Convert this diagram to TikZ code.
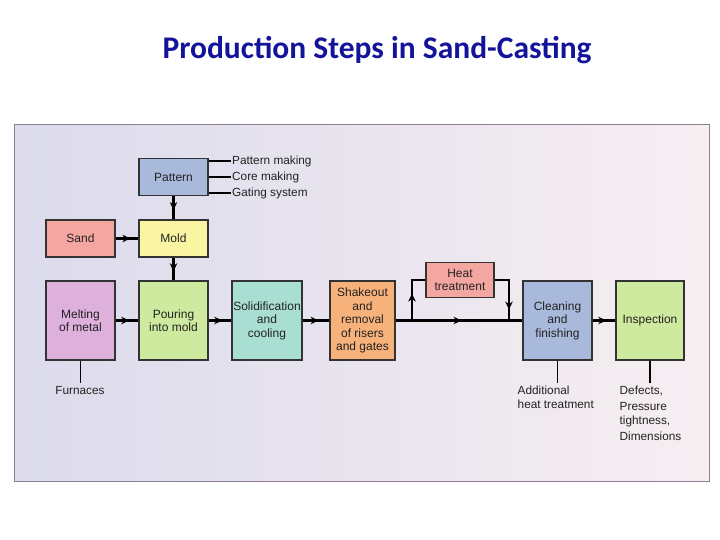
\documentclass[tikz,border=0pt]{standalone}
\usepackage{fontspec}
\setmainfont{Liberation Sans}
\newfontfamily\titlefont{Carlito}
\usepackage{tikz}
\usetikzlibrary{arrows.meta,positioning,calc,decorations.markings}
\usepackage{xcolor}
\definecolor{titleblue}{HTML}{14149A}
\definecolor{framegray}{HTML}{8E7C90}
\definecolor{bgleft}{HTML}{DCDBEC}
\definecolor{bgright}{HTML}{F6EEF1}
\definecolor{boxtext}{HTML}{222222}
\definecolor{bluebox}{HTML}{A9B9DC}
\definecolor{salmonbox}{HTML}{F4A7A0}
\definecolor{yellowbox}{HTML}{FAF5A2}
\definecolor{purplebox}{HTML}{DDB1DC}
\definecolor{greenbox}{HTML}{CDEA9E}
\definecolor{tealbox}{HTML}{A9DFD2}
\definecolor{orangebox}{HTML}{F7B27C}

\begin{document}
\begin{tikzpicture}[x=1pt, y=-1pt,
  procbox/.style={rectangle, draw=black!80, line width=1.4pt, fill=#1,
               minimum width=69pt, minimum height=79pt, inner sep=1pt,
               font=\fontsize{12}{13.5}\selectfont, text=boxtext, align=center},
  smallbox/.style={procbox=#1, minimum height=37pt},
  note/.style={font=\fontsize{11.8}{14}\selectfont, text=boxtext, align=left, inner sep=0pt},
  flow/.style={line width=2.1pt, black},
  tick/.style={line width=1.6pt, black},
  midarrow/.style={postaction={decorate}, decoration={markings,
               mark=at position #1 with {\arrow{Stealth[length=8pt, width=7.5pt]}}}},
]
  \useasboundingbox (0,0) rectangle (720,540);

  % title and backdrop
  \node[font=\titlefont\bfseries\fontsize{31.5}{36}\selectfont, text=titleblue] (title) at (377,50) {Production Steps in Sand-Casting};
  \shade[left color=bgleft, middle color=white!97!bgleft, right color=bgright] (14,125) rectangle (709,481);
  \draw[framegray, line width=1pt] (14,125) rectangle (709,481);

  % upper branch
  \node[smallbox=bluebox] (pattern) at (173.5,177) {Pattern};
  \node[smallbox=yellowbox] (mold) at (173.5,238.5) {Mold};
  \node[smallbox=salmonbox] (sand) at (80.5,238.5) {Sand};

  \node[note, anchor=west] (pmaking) at (232,161) {Pattern making};
  \node[note, anchor=west] (cmaking) at (232,177) {Core making};
  \node[note, anchor=west] (gating) at (232,193) {Gating system};
  \foreach \n in {pmaking,cmaking,gating}
    \draw[tick] (pattern.east |- \n.west) -- ($(\n.west)+(-1,0)$);

  % main row
  \node[procbox=purplebox] (melting) at (80.5,320.5) {Melting\\of metal};
  \node[procbox=greenbox] (pouring) at (173.5,320.5) {Pouring\\into mold};
  \node[procbox=tealbox, minimum width=70pt] (solid) at (267,320.5) {Solidification\\and\\cooling};
  \node[procbox=orangebox, minimum width=65pt] (shakeout) at (362.5,320.5) {Shakeout\\and\\removal\\of risers\\and gates};
  \node[smallbox=salmonbox, minimum width=68pt, minimum height=35pt] (heat) at (460,280) {Heat\\treatment};
  \node[procbox=bluebox] (cleaning) at (557.5,320.5) {Cleaning\\and\\finishing};
  \node[procbox=greenbox, minimum width=68pt] (inspection) at (650,320.5) {Inspection};

  \coordinate (split) at (412,320.5);
  \coordinate (rejoin) at (509,320.5);

  % connectors
  \draw[flow, midarrow=0.6] (pattern) -- (mold);
  \draw[flow, midarrow=0.65] (sand) -- (mold);
  \draw[flow, midarrow=0.6] (mold) -- (pouring);
  \draw[flow, midarrow=0.6] (melting) -- (pouring);
  \draw[flow, midarrow=0.6] (pouring) -- (solid);
  \draw[flow, midarrow=0.6] (solid) -- (shakeout);
  \draw[flow, midarrow=0.52] (shakeout) -- (cleaning);
  \draw[flow, midarrow=0.5] (split) |- (heat.west);
  \draw[flow, midarrow=0.8] (heat.east) -| (rejoin);
  \draw[flow, midarrow=0.6] (cleaning) -- (inspection);

  % notes below
  \node[note, anchor=north] (furnaces) at (80,386) {Furnaces};
  \node[note, anchor=north west] (addheat) at (517.5,386) {Additional\\heat treatment};
  \node[note, anchor=north west, font=\fontsize{11.8}{16}\selectfont] (checks) at (619.5,386) {Defects,\\Pressure\\[-2pt]tightness,\\Dimensions};
  \draw[tick] (melting.south) -- ($(melting.south |- furnaces.north)+(0,-3)$);
  \draw[tick] (cleaning.south) -- ($(cleaning.south |- addheat.north)+(0,-3)$);
  \draw[tick] (inspection.south) -- ($(inspection.south |- checks.north)+(0,-3)$);
\end{tikzpicture}
\end{document}
